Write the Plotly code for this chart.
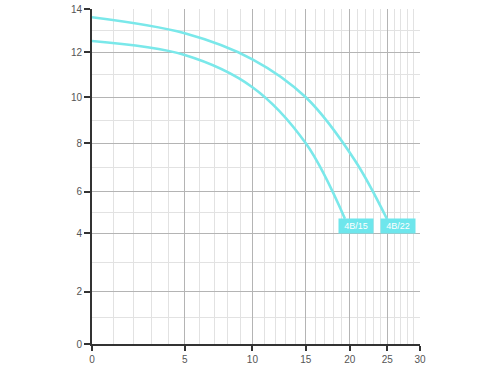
import numpy as np
import plotly.graph_objects as go

# ---- data ----
curve_names = ["4B/22", "4B/15"]
x_4b22 = [0, 5, 10, 15, 20.6, 25.0]
y_4b22 = [13.62, 12.88, 11.69, 10.0, 7.31, 4.65]
x_4b15 = [0, 5, 10, 15, 19.4]
y_4b15 = [12.52, 11.88, 10.45, 8.0, 4.7]

x_ticks = [0, 5, 10, 15, 20, 25, 30]
y_ticks = [0, 2, 4, 6, 8, 10, 12, 14]

label_x = [26.5, 20.8]
label_y = [4.35, 4.35]

# ---- axis scales of the original drawing ----
X_OFFSET = 11.3                      # x axis is logarithmic in (x + offset)
Y_SCALE = [0, 52.3, 110.7, 152.3, 200.7, 246.7, 291.7, 335.0]  # uneven y grid


def tx(v):
    return np.asarray(v, dtype=float) + X_OFFSET


def ty(v):
    return np.interp(np.asarray(v, dtype=float), y_ticks, Y_SCALE)


CURVE = "#7ae8ea"
BOX = "#6ee6ec"
FONT = "Liberation Sans, Arial"

fig = go.Figure()
for xs, ys, name in [(x_4b22, y_4b22, curve_names[0]), (x_4b15, y_4b15, curve_names[1])]:
    fig.add_trace(go.Scatter(
        x=tx(xs), y=ty(ys), mode="lines", name=name,
        line=dict(color=CURVE, width=2.6, shape="spline", smoothing=1.0),
        hoverinfo="skip", showlegend=False,
    ))

for name, lx, ly in zip(curve_names, label_x, label_y):
    fig.add_annotation(
        x=np.log10(tx(lx)), y=float(ty(ly)), xref="x", yref="y",
        text=name, showarrow=False,
        font=dict(size=9, color="white", family=FONT),
        bgcolor=BOX, borderpad=2, width=30,
    )

minor_x = [v for v in range(0, 31) if v % 5 != 0]
minor_y = [v for v in range(0, 15) if v % 2 == 1]

fig.update_xaxes(
    type="log",
    range=[np.log10(tx(0)), np.log10(tx(30))],
    tickmode="array", tickvals=list(tx(x_ticks)), ticktext=[str(v) for v in x_ticks],
    showgrid=True, gridcolor="#b4b4b4", gridwidth=1,
    minor=dict(tickmode="array", tickvals=list(tx(minor_x)), showgrid=True,
               gridcolor="#e2e2e2", gridwidth=1, ticks=""),
    showline=True, linecolor="#333333", linewidth=2,
    ticks="outside", ticklen=5, tickwidth=2, tickcolor="#333333",
    tickfont=dict(size=10, color="#555555", family=FONT),
    zeroline=False, fixedrange=True, automargin=False,
)
fig.update_yaxes(
    range=[0, Y_SCALE[-1]],
    tickmode="array", tickvals=list(ty(y_ticks)), ticktext=[str(v) for v in y_ticks],
    showgrid=True, gridcolor="#b4b4b4", gridwidth=1,
    minor=dict(tickmode="array", tickvals=list(ty(minor_y)), showgrid=True,
               gridcolor="#e2e2e2", gridwidth=1, ticks=""),
    showline=True, linecolor="#333333", linewidth=2,
    ticks="outside", ticklen=6, tickwidth=2, tickcolor="#333333",
    tickfont=dict(size=10, color="#555555", family=FONT),
    zeroline=False, fixedrange=True, automargin=False,
)

fig.update_layout(
    width=500, height=375,
    margin=dict(l=92, r=80, t=9, b=31),
    paper_bgcolor="white", plot_bgcolor="white",
    showlegend=False,
)

fig.write_html("out.html")
